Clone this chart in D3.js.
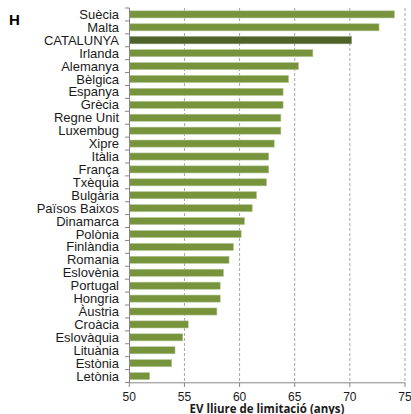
<!DOCTYPE html>
<html><head><meta charset="utf-8">
<script src="https://cdn.jsdelivr.net/npm/d3@7"></script>
<style>body{margin:0;background:#fff}svg{display:block}</style>
</head><body>
<svg id="c" width="411" height="414"></svg>
<script>
const countries = ["Suècia","Malta","CATALUNYA","Irlanda","Alemanya","Bèlgica","Espanya","Grècia","Regne Unit","Luxembug","Xipre","Itàlia","França","Txèquia","Bulgària","Països Baixos","Dinamarca","Polònia","Finlàndia","Romania","Eslovènia","Portugal","Hongria","Àustria","Croàcia","Eslovàquia","Lituània","Estònia","Letònia"];
const values = [74.0,72.6,70.1,66.6,65.3,64.4,63.9,63.9,63.7,63.7,63.1,62.6,62.6,62.4,61.5,61.1,60.4,60.1,59.4,59.0,58.5,58.2,58.2,57.9,55.3,54.8,54.1,53.8,51.8];
const xTicks = [50,55,60,65,70,75];
const highlight = "CATALUNYA";
const panelLabel = "H";
const xTitle = "EV  lliure de limitació (anys)";

const svg = d3.select("#c");
const x = d3.scaleLinear().domain([50,75]).range([129.3,405]);
const y = d3.scaleBand().domain(countries).range([8,382.5]).paddingInner(0.45).paddingOuter(0.22);

// gridlines
svg.append("g").selectAll("line").data(xTicks.slice(1)).join("line")
  .attr("x1",d=>x(d)).attr("x2",d=>x(d)).attr("y1",8).attr("y2",382.5)
  .attr("stroke","#a6a6a6").attr("stroke-width",1).attr("stroke-dasharray","3,2");

// bars
svg.append("g").selectAll("rect").data(countries).join("rect")
  .attr("x",x(50)+0.5).attr("y",d=>y(d))
  .attr("width",(d,i)=>x(values[i])-x(50))
  .attr("height",y.bandwidth())
  .attr("fill",d=>d===highlight?"#4f6228":"#77933c")
  .attr("stroke",d=>d===highlight?"#7f8f6a":"#b6c99a").attr("stroke-width",0.6);

// left axis
const ax = svg.append("g");
ax.append("line").attr("x1",129.5).attr("x2",129.5).attr("y1",8).attr("y2",383).attr("stroke","#868686");
const bounds = d3.range(countries.length+1).map(i=>8+ (382.5-8)*i/countries.length);
ax.selectAll("line.t").data(bounds).join("line").attr("class","t")
  .attr("x1",125).attr("x2",129.5).attr("y1",d=>d).attr("y2",d=>d).attr("stroke","#868686");
// labels
svg.append("g").selectAll("text").data(countries).join("text")
  .attr("x",119).attr("y",d=>y(d)+y.bandwidth()/2).attr("dy","0.35em")
  .attr("text-anchor","end").attr("font-family","Liberation Sans, Arial, sans-serif")
  .attr("font-size",13).attr("fill","#1a1a1a").text(d=>d);

// bottom axis
const bx = svg.append("g");
bx.append("line").attr("x1",129.3).attr("x2",405.5).attr("y1",382.8).attr("y2",382.8).attr("stroke","#868686");
bx.selectAll("line.t").data(xTicks).join("line").attr("class","t")
  .attr("x1",d=>x(d)).attr("x2",d=>x(d)).attr("y1",382.8).attr("y2",387).attr("stroke","#868686");
bx.selectAll("text").data(xTicks).join("text")
  .attr("x",d=>x(d)).attr("y",400.5).attr("text-anchor","middle")
  .attr("font-family","Liberation Sans, Arial, sans-serif").attr("font-size",12).attr("fill","#1a1a1a").text(d=>d);

svg.append("text").attr("x",267).attr("y",412.5).attr("text-anchor","middle")
  .attr("font-family","Open Sans, Liberation Sans, sans-serif").attr("font-weight","bold")
  .attr("font-size",11.5).attr("fill","#1a1a1a").text(xTitle);

svg.append("text").attr("x",9).attr("y",25).attr("font-family","Liberation Sans, Arial, sans-serif")
  .attr("font-weight","bold").attr("font-size",15).attr("fill","#000").text(panelLabel);
</script>
</body></html>
